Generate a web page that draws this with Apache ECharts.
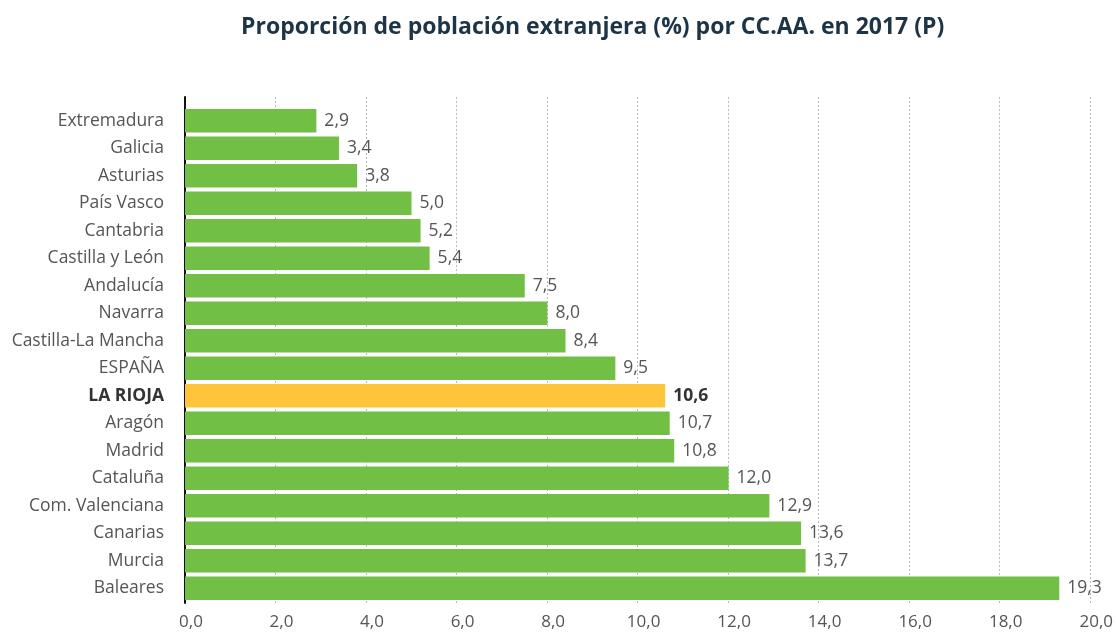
<!DOCTYPE html>
<html>
<head>
<meta charset="utf-8">
<script src="https://cdn.jsdelivr.net/npm/echarts@6/dist/echarts.min.js"></script>
<style>
  html, body { margin: 0; padding: 0; background: #fff; }
  #chart { width: 1116px; height: 632px; }
</style>
</head>
<body>
<div id="chart"></div>
<script>
// Proporción de población extranjera por comunidad autónoma, 2017 (P)
const regions = [
  'Extremadura', 'Galicia', 'Asturias', 'País Vasco', 'Cantabria',
  'Castilla y León', 'Andalucía', 'Navarra', 'Castilla-La Mancha', 'ESPAÑA',
  'LA RIOJA', 'Aragón', 'Madrid', 'Cataluña', 'Com. Valenciana',
  'Canarias', 'Murcia', 'Baleares'
];
const shares = [
  2.9, 3.4, 3.8, 5.0, 5.2,
  5.4, 7.5, 8.0, 8.4, 9.5,
  10.6, 10.7, 10.8, 12.0, 12.9,
  13.6, 13.7, 19.3
];
const highlighted = 'LA RIOJA';
const axisMin = 0;
const axisMax = 20;
const axisStep = 2;

const GREEN = '#72bf45';
const YELLOW = '#fec43a';
const FONT = '"Open Sans", "Noto Sans", sans-serif';
const fmt = v => v.toFixed(1).replace('.', ',');

const seriesData = regions.map((name, i) => {
  const hi = name === highlighted;
  return {
    value: shares[i],
    itemStyle: { color: hi ? YELLOW : GREEN },
    label: hi ? { fontWeight: 'bold', color: '#333' } : undefined
  };
});

const chart = echarts.init(document.getElementById('chart'), null, { renderer: 'canvas' });
chart.setOption({
  animation: false,
  title: {
    text: 'Proporción de población extranjera (%) por CC.AA. en 2017 (P)',
    left: 236,
    top: 11,
    textStyle: { fontFamily: FONT, fontSize: 23, fontWeight: 'bold', color: '#1d3446' }
  },
  grid: [
    // bars
    { left: 185, right: 25, top: 107, bottom: 30 },
    // frame: vertical axis line, dotted grid and scale labels
    { left: 185, right: 25, top: 97, bottom: 29 }
  ],
  xAxis: [
    { gridIndex: 0, type: 'value', min: axisMin, max: axisMax, interval: axisStep, show: false },
    {
      gridIndex: 1, type: 'value', min: axisMin, max: axisMax, interval: axisStep,
      axisLine: { show: false },
      axisTick: { show: false },
      splitLine: { show: true, lineStyle: { color: '#b8b8b8', type: [2, 2], width: 1 } },
      axisLabel: {
        formatter: fmt, margin: 11, padding: [0, 0, 0, 12],
        fontFamily: FONT, fontSize: 17, color: '#555'
      }
    }
  ],
  yAxis: [
    {
      gridIndex: 0, type: 'category', data: regions, inverse: true,
      axisLine: { show: false },
      axisTick: { show: false },
      axisLabel: {
        margin: 21, fontFamily: FONT, fontSize: 17.5, color: '#555',
        formatter: v => v === highlighted ? '{b|' + v + '}' : v,
        rich: { b: { fontFamily: FONT, fontSize: 17.5, fontWeight: 'bold', color: '#333' } }
      }
    },
    {
      gridIndex: 1, type: 'category', data: [],
      axisLine: { show: true, lineStyle: { color: '#111', width: 2 } },
      axisTick: { show: false },
      axisLabel: { show: false }
    }
  ],
  series: [{
    type: 'bar',
    xAxisIndex: 0,
    yAxisIndex: 0,
    data: seriesData,
    barCategoryGap: '14%',
    label: {
      show: true,
      position: 'right',
      distance: 8,
      formatter: p => fmt(p.value),
      fontFamily: FONT,
      fontSize: 17.5,
      color: '#555'
    }
  }]
});
</script>
</body>
</html>
